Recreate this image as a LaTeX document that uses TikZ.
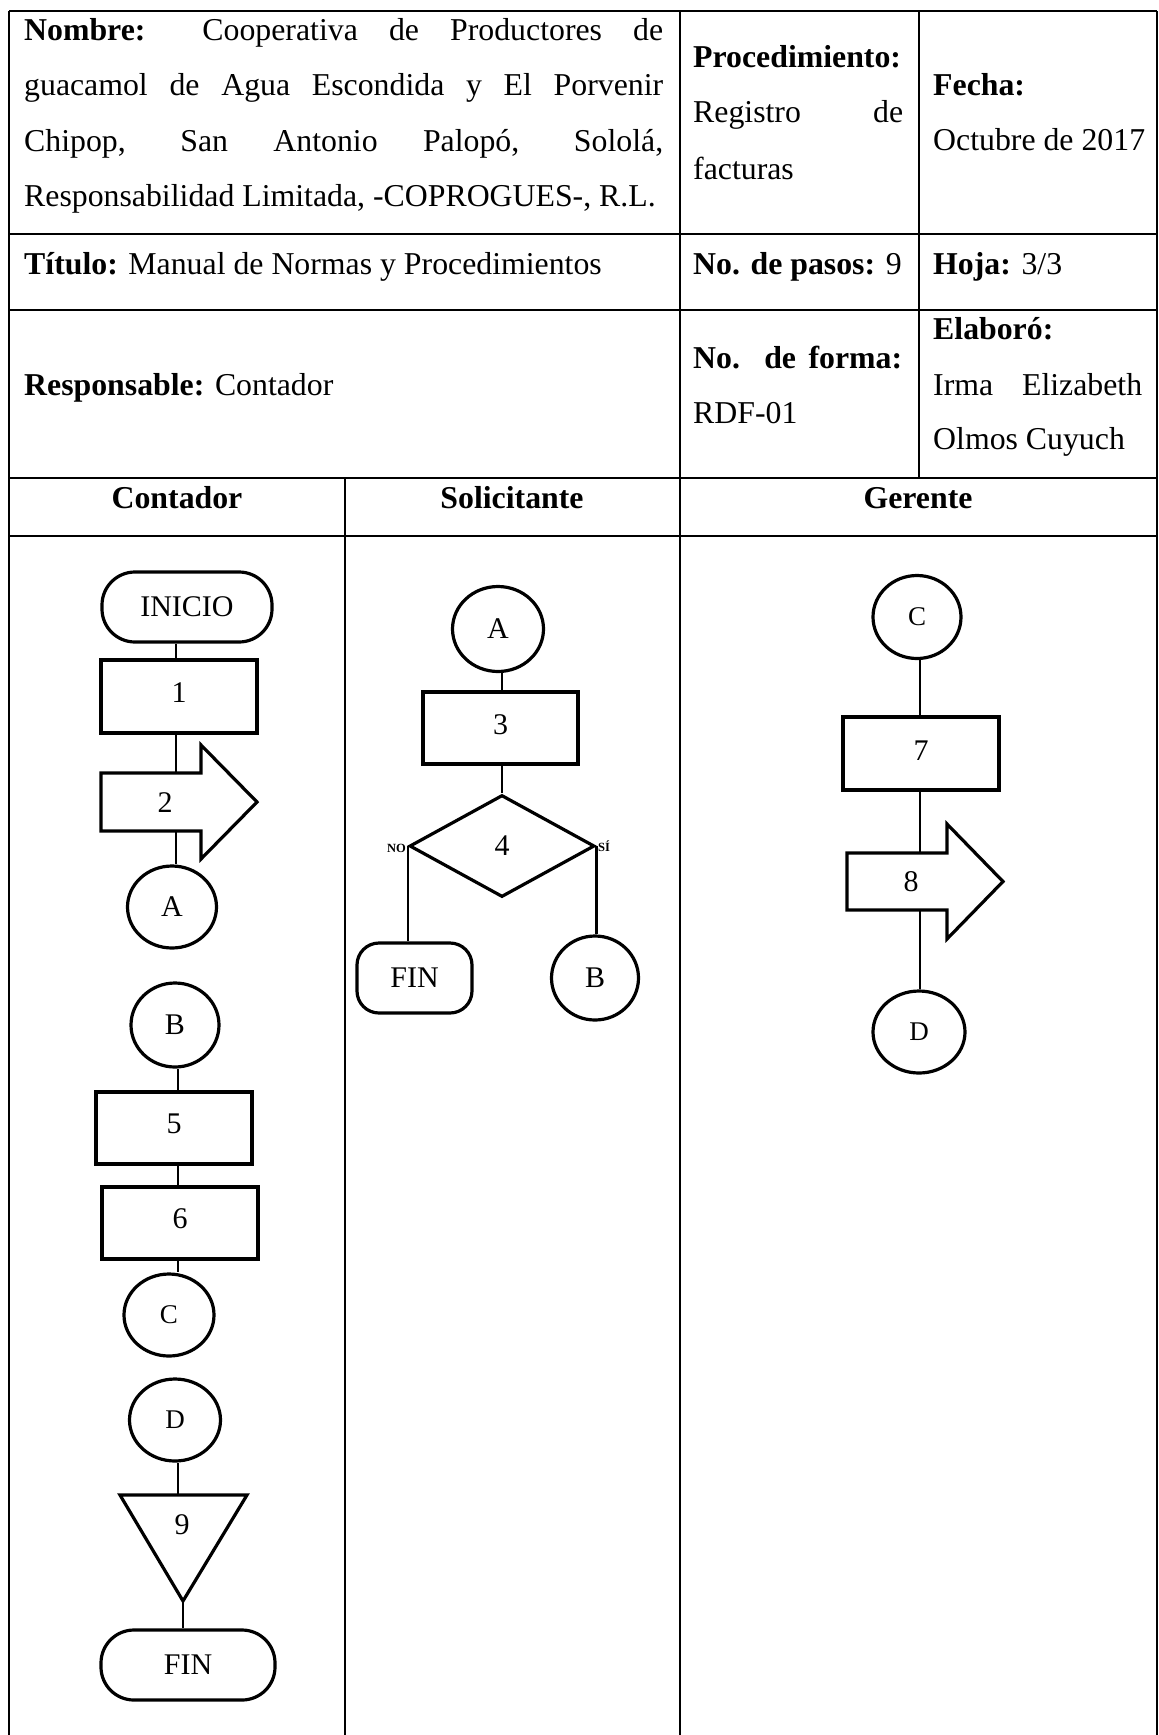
\documentclass[tikz,border=0pt]{standalone}
\usepackage{fontspec}
\setmainfont{Liberation Serif}
\usetikzlibrary{shapes.geometric}
\begin{document}
\begin{tikzpicture}[x=1pt,y=-1pt,
  tline/.style={line width=2.4pt},
  lane/.style={line width=2pt},
  hdr/.style={font=\fontsize{31.8}{40}\selectfont, inner sep=0pt, anchor=base west},
  hdc/.style={font=\fontsize{31.8}{40}\selectfont\bfseries, inner sep=0pt, anchor=base},
  shp/.style={draw, line width=3.2pt, inner sep=0pt, font=\fontsize{30}{32}\selectfont},
  procbox/.style={shp, rectangle},
  term/.style={shp, rectangle, rounded corners=33pt},
  conec/.style={shp, ellipse},
  decis/.style={shp, diamond, shape aspect=1.8},
  body/.style={inner sep=0pt, outer sep=0pt, draw=none},
  outline/.style={line width=3.2pt, line join=miter},
  lbl/.style={inner sep=0pt, font=\fontsize{30}{32}\selectfont},
  small/.style={inner sep=0pt, font=\fontsize{12.5}{14}\selectfont\bfseries},
  conn/.style={line width=2.8pt}
]
\useasboundingbox (0,0) rectangle (1159,1735);
\fill[white] (0,0) rectangle (1159,1735);

% ---------- table ----------
\draw[tline] (9,11) -- (1157,11);
\draw[tline] (9,234) -- (1157,234);
\draw[tline] (9,310) -- (1157,310);
\draw[tline] (9,478) -- (1157,478);
\draw[tline] (9,536) -- (1157,536);
\draw[tline] (9,11) -- (9,536);
\draw[tline] (680,11) -- (680,536);
\draw[tline] (919,11) -- (919,478);
\draw[tline] (1157,11) -- (1157,536);
\draw[tline] (345,478) -- (345,536);
\draw[lane] (9,536) -- (9,1735);
\draw[lane] (345,536) -- (345,1735);
\draw[lane] (680,536) -- (680,1735);
\draw[lane] (1157,536) -- (1157,1735);

% ---------- header texts ----------
\node[hdr] (nom1) at (24,40) {\makebox[639pt][s]{\textbf{Nombre:} Cooperativa de Productores de}};
\node[hdr] (nom2) at (24,95) {\makebox[639pt][s]{guacamol de Agua Escondida y El Porvenir}};
\node[hdr] (nom3) at (24,151) {\makebox[639pt][s]{Chipop, San Antonio Palopó, Sololá,}};
\node[hdr] (nom4) at (24,206) {Responsabilidad Limitada, -COPROGUES-, R.L.};

\node[hdr] (proc1) at (693,67) {\textbf{Procedimiento:}};
\node[hdr] (proc2) at (693,122) {\makebox[210pt][s]{Registro de}};
\node[hdr] (proc3) at (693,179) {facturas};

\node[hdr] (fec1) at (933,95) {\textbf{Fecha:}};
\node[hdr] (fec2) at (933,150) {Octubre de 2017};

\node[hdr] (tit) at (24,274) {\textbf{Título:} Manual de Normas y Procedimientos};
\node[hdr] (pasos) at (693,274) {\textbf{No. de pasos:} 9};
\node[hdr] (hoja) at (933,274) {\textbf{Hoja:} 3/3};

\node[hdr] (resp) at (24,395) {\textbf{Responsable:} Contador};
\node[hdr] (forma1) at (693,368) {\makebox[209pt][s]{\textbf{No. de forma:}}};
\node[hdr] (forma2) at (693,423) {RDF-01};
\node[hdr] (elab1) at (933,339) {\textbf{Elaboró:}};
\node[hdr] (elab2) at (933,395) {\makebox[209pt][s]{Irma Elizabeth}};
\node[hdr] (elab3) at (933,449) {Olmos Cuyuch};

\node[hdc] (hcont) at (177,508) {Contador};
\node[hdc] (hsol) at (512,508) {Solicitante};
\node[hdc] (hger) at (918,508) {Gerente};

% ---------- lane x references ----------
\coordinate (lx1) at (176,0);
\coordinate (lx2) at (178,0);
\coordinate (lx3) at (502,0);
\coordinate (lx4) at (920,0);

% ---------- Contador ----------
\node[term, minimum width=170, minimum height=70] (inicio) at (187,607) {INICIO};
\node[procbox, minimum width=156, minimum height=73] (n1) at (179,696.5) {\raisebox{8pt}{1}};
\node[body, minimum width=100, minimum height=58] (a2) at (151,802) {};
\draw[outline] (a2.north west) -- (a2.north east) -- ++(0,-28) -- ([xshift=56pt]a2.east)
  -- ([yshift=-28pt]a2.south east) -- (a2.south east) -- (a2.south west) -- cycle;
\node[lbl] (t2) at (165,803) {2};
\node[conec, minimum width=89, minimum height=82] (ca1) at (172,907) {A};

\node[conec, minimum width=88, minimum height=84] (cb1) at (175,1025) {B};
\node[procbox, minimum width=156, minimum height=72] (n5) at (174,1128) {\raisebox{8pt}{5}};
\node[procbox, minimum width=156, minimum height=72] (n6) at (180,1223) {\raisebox{8pt}{6}};
\node[conec, minimum width=90, minimum height=82, font=\fontsize{27}{29}\selectfont] (cc1) at (169,1315) {C};
\node[conec, minimum width=91, minimum height=82, font=\fontsize{27}{29}\selectfont] (cd1) at (175,1420) {D};
\coordinate (t9n) at (178,1495);
\coordinate (t9s) at (183,1601);
\draw[outline] (120,1495) -- (247,1495) -- (t9s) -- cycle;
\node[lbl] (t9) at (182,1525) {9};
\node[term, minimum width=174, minimum height=70] (fin1) at (188,1665) {FIN};

\draw[conn] (inicio.south -| lx1) -- (n1.north -| lx1);
\draw[conn] (n1.south -| lx1) -- (a2.north -| lx1);
\draw[conn] (a2.south -| lx1) -- (ca1.north -| lx1);
\draw[conn] (cb1.south -| lx2) -- (n5.north -| lx2);
\draw[conn] (n5.south -| lx2) -- (n6.north -| lx2);
\draw[conn] (n6.south -| lx2) -- (cc1.north -| lx2);
\draw[conn] (cd1.south -| lx2) -- (t9n);
\draw[conn] (t9s) -- (t9s |- fin1.north);

% ---------- Solicitante ----------
\node[conec, minimum width=91, minimum height=85] (ca2) at (498,629) {A};
\node[procbox, minimum width=155, minimum height=72] (n3) at (500.5,728) {\raisebox{6pt}{3}};
\node[decis, minimum width=185, minimum height=102] (d4) at (502,846) {4};
\node[term, rounded corners=22pt, minimum width=115, minimum height=70] (fin2) at (414.5,978) {FIN};
\node[conec, minimum width=87, minimum height=84] (cb2) at (595,978) {B};
\node[small, anchor=east] (lno) at (406,848) {NO};
\node[small, anchor=west] (lsi) at (598,846) {SÍ};

\draw[conn] (ca2.south -| lx3) -- (n3.north -| lx3);
\draw[conn] (n3.south -| lx3) -- (d4.north);
\draw[conn] (d4.west) -- (d4.west |- fin2.north);
\draw[conn] (d4.east) -- (d4.east |- cb2.north);

% ---------- Gerente ----------
\node[conec, minimum width=88, minimum height=83, font=\fontsize{27}{29}\selectfont] (cc2) at (917,617) {C};
\node[procbox, minimum width=156, minimum height=73] (n7) at (921,753.5) {\raisebox{6pt}{7}};
\node[body, minimum width=100, minimum height=57] (a8) at (897,881.5) {};
\draw[outline] (a8.north west) -- (a8.north east) -- ++(0,-29) -- ([xshift=56pt]a8.east)
  -- ([yshift=-29pt]a8.south east) -- (a8.south east) -- (a8.south west) -- cycle;
\node[lbl] (t8) at (911,882) {8};
\node[conec, minimum width=92, minimum height=82, font=\fontsize{27}{29}\selectfont] (cd2) at (919,1032) {D};

\draw[conn] (cc2.south -| lx4) -- (n7.north -| lx4);
\draw[conn] (n7.south -| lx4) -- (a8.north -| lx4);
\draw[conn] (a8.south -| lx4) -- (cd2.north -| lx4);
\end{tikzpicture}
\end{document}
